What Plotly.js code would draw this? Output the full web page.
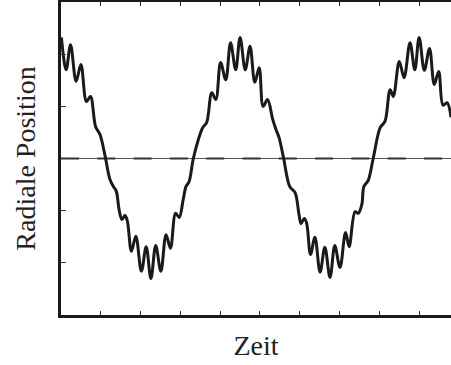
<!DOCTYPE html>
<html>
<head>
<meta charset="utf-8">
<script src="https://cdn.plot.ly/plotly-3.0.1.min.js"></script>
<style>
  html, body { margin: 0; padding: 0; background: #fff; overflow: hidden; }
  #chart { width: 451px; height: 365px; }
</style>
</head>
<body>
<div id="chart"></div>
<script>
// Time axis values (arbitrary units)
const zeit = [
  0.01, 0.13, 0.24, 0.38, 0.50, 0.64, 0.74, 0.87, 0.98, 1.11,
  1.23, 1.32, 1.39, 1.46, 1.53, 1.61, 1.67, 1.77, 1.88, 2.02,
  2.14, 2.26, 2.38, 2.51, 2.64, 2.75, 2.88, 2.97, 3.07, 3.14,
  3.22, 3.32, 3.45, 3.56, 3.66, 3.79, 3.89, 4.01, 4.14, 4.26,
  4.39, 4.50, 4.63, 4.75, 4.87, 4.98, 5.08, 5.19, 5.32, 5.40,
  5.48, 5.59, 5.75, 5.88, 5.98, 6.03, 6.11, 6.17, 6.27, 6.38,
  6.51, 6.63, 6.76, 6.88, 7.01, 7.15, 7.24, 7.39, 7.47, 7.56,
  7.61, 7.72, 7.85, 8.02, 8.14, 8.27, 8.35, 8.50, 8.62, 8.77,
  8.89, 9.00, 9.13, 9.26, 9.38, 9.49, 9.60, 9.70, 9.80
];
// Radial position values
const radialePosition = [
  2.32, 1.70, 2.18, 1.48, 1.80, 1.09, 1.19, 0.61, 0.46, 0.04,
  -0.40, -0.54, -0.63, -0.98, -1.17, -1.09, -1.21, -1.78, -1.49, -2.16,
  -1.69, -2.30, -1.67, -2.16, -1.46, -1.72, -1.05, -1.13, -0.79, -0.54,
  -0.44, -0.02, 0.36, 0.59, 0.69, 1.26, 1.13, 1.84, 1.51, 2.22,
  1.70, 2.32, 1.70, 2.15, 1.46, 1.74, 1.00, 1.13, 0.75, 0.56,
  0.40, 0.02, -0.54, -0.65, -1.07, -1.25, -1.15, -1.23, -1.84, -1.51,
  -2.18, -1.70, -2.28, -1.67, -2.09, -1.42, -1.69, -1.02, -1.05, -0.88,
  -0.54, -0.42, 0.02, 0.59, 0.71, 1.32, 1.19, 1.86, 1.55, 2.22,
  1.70, 2.32, 1.69, 2.11, 1.42, 1.67, 1.02, 1.07, 0.79
];
// Reference (zero) line
const nullX = [0, 9.8];
const nullY = [0, 0];
// Tick positions (no labels shown)
const xTicks = [1, 2, 3, 4, 5, 6, 7, 8, 9];
const yTicks = [-2, -1, 0, 1, 2];

const traces = [
  { x: nullX, y: nullY, mode: 'lines', line: { color: '#555', width: 1 }, hoverinfo: 'skip', showlegend: false },
  { x: nullX, y: nullY, mode: 'lines', line: { color: '#333', width: 2, dash: '18px,18.3px' }, hoverinfo: 'skip', showlegend: false },
  { x: zeit, y: radialePosition, mode: 'lines', line: { color: '#1a1a1a', width: 3, shape: 'spline', smoothing: 1 }, showlegend: false }
];

const layout = {
  width: 451, height: 365,
  margin: { l: 61, r: 0, t: 2, b: 50 },
  paper_bgcolor: '#fff', plot_bgcolor: '#fff',
  showlegend: false,
  font: { family: 'Liberation Serif, serif', color: '#222' },
  xaxis: {
    range: [0, 9.8], showgrid: false, zeroline: false,
    showline: true, linewidth: 3, linecolor: '#1a1a1a', mirror: 'ticks',
    ticks: 'inside', ticklen: 4, tickwidth: 1, tickcolor: '#333',
    tickvals: xTicks, showticklabels: false,
    title: { text: 'Zeit', font: { size: 28, family: 'Liberation Serif, serif', color: '#222' }, standoff: 19 },
    automargin: false
  },
  yaxis: {
    range: [-3, 3], showgrid: false, zeroline: false,
    showline: true, linewidth: 3, linecolor: '#1a1a1a', mirror: true,
    ticks: 'inside', ticklen: 5, tickwidth: 1, tickcolor: '#333',
    tickvals: yTicks, showticklabels: false,
    title: { text: 'Radiale Position', font: { size: 28, family: 'Liberation Serif, serif', color: '#222' }, standoff: 15 },
    automargin: false
  }
};

Plotly.newPlot('chart', traces, layout, { displayModeBar: false, staticPlot: true });
</script>
</body>
</html>
